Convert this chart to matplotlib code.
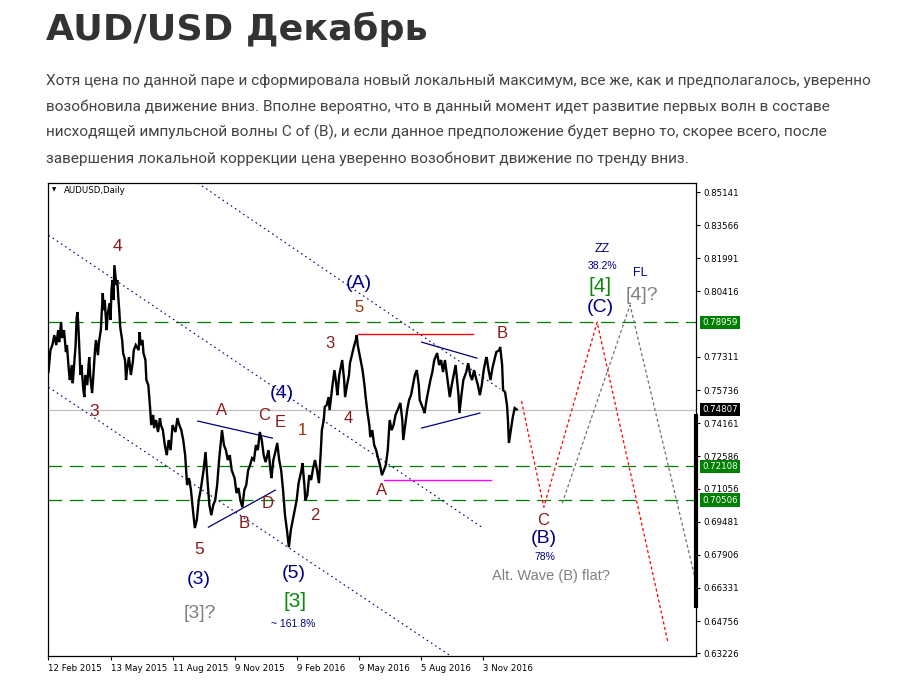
import numpy as np
import matplotlib.pyplot as plt

# AUDUSD daily, bar index counted from 12 Feb 2015, price
bars = [0, 2, 4, 6, 8, 10, 11, 13, 14, 16, 18, 19, 21, 22, 24, 25, 28, 29, 30, 31,
        33, 34, 36, 37, 38, 40, 41, 42, 43, 45, 46, 48, 49, 51, 52, 54, 56, 57, 58, 60,
        61, 63, 64, 65, 66, 67, 68, 70, 71, 72, 73, 74, 76, 77, 79, 80, 81, 83, 85, 87,
        88, 90, 93, 94, 95, 97, 98, 100, 101, 103, 105, 106, 108, 109, 111, 113, 115, 116, 118, 120,
        122, 124, 126, 128, 131, 133, 135, 137, 139, 141, 143, 145, 147, 149, 151, 153, 155, 157, 160, 162,
        164, 166, 168, 170, 172, 174, 176, 178, 179, 181, 183, 185, 187, 189, 192, 194, 196, 198, 200, 202,
        204, 206, 208, 210, 212, 214, 216, 218, 220, 222, 224, 227, 229, 230, 232, 234, 236, 238, 240, 242,
        244, 246, 248, 250, 252, 254, 256, 258, 261, 262, 264, 265, 267, 269, 271, 273, 275, 277, 279, 281,
        282, 284, 285, 287, 289, 290, 293, 295, 297, 298, 300, 303, 305, 306, 308, 310, 311, 313, 315, 317,
        318, 319, 321, 324, 326, 327, 329, 331, 332, 334, 336, 338, 340, 342, 344, 346, 348, 350, 352, 354,
        356, 358, 361, 363, 365, 366, 368, 370, 372, 374, 376, 378, 380, 382, 383, 385, 387, 388, 390, 392,
        394, 396, 398, 401, 403, 405, 407, 409, 411, 413, 414, 416, 418, 420, 421, 423, 424, 426, 428, 431,
        433, 435, 437, 439, 441, 443, 445, 447, 449, 451, 452, 454, 456, 458, 460, 462, 465, 466, 468, 469,
        471, 473, 474, 475, 477, 479, 481, 483]
close = [0.7659, 0.7763, 0.7787, 0.7834, 0.7787, 0.7858, 0.7801, 0.7896, 0.7820, 0.7858,
         0.7754, 0.7787, 0.7668, 0.7621, 0.7692, 0.7606, 0.7787, 0.7915, 0.7944, 0.7858,
         0.7645, 0.7692, 0.7573, 0.7540, 0.7645, 0.7597, 0.7668, 0.7730, 0.7645, 0.7559,
         0.7621, 0.7763, 0.7811, 0.7739, 0.7797, 0.7858, 0.8034, 0.7953, 0.8001, 0.7858,
         0.7929, 0.7986, 0.7906, 0.8048, 0.8096, 0.8001, 0.8167, 0.8072, 0.8096, 0.8015,
         0.7953, 0.7872, 0.7811, 0.7749, 0.7716, 0.7621, 0.7668, 0.7730, 0.7645, 0.7706,
         0.7763, 0.7787, 0.7763, 0.7849, 0.7787, 0.7811, 0.7749, 0.7716, 0.7621, 0.7597,
         0.7478, 0.7407, 0.7455, 0.7393, 0.7431, 0.7374, 0.7440, 0.7407, 0.7383, 0.7312,
         0.7264, 0.7336, 0.7288, 0.7407, 0.7374, 0.7440, 0.7407, 0.7383, 0.7336, 0.7264,
         0.7122, 0.7155, 0.7098, 0.7003, 0.6918, 0.6956, 0.7050, 0.7098, 0.7193, 0.7279,
         0.7146, 0.7027, 0.6979, 0.7027, 0.7050, 0.7122, 0.7241, 0.7336, 0.7383, 0.7312,
         0.7288, 0.7241, 0.7264, 0.7193, 0.7155, 0.7084, 0.7108, 0.7050, 0.7017, 0.7098,
         0.7122, 0.7193, 0.7217, 0.7250, 0.7241, 0.7312, 0.7288, 0.7374, 0.7336, 0.7264,
         0.7231, 0.7288, 0.7193, 0.7155, 0.7241, 0.7279, 0.7322, 0.7241, 0.7193, 0.7098,
         0.6979, 0.6908, 0.6827, 0.6908, 0.6956, 0.7003, 0.7050, 0.7131, 0.7193, 0.7226,
         0.7122, 0.7050, 0.7074, 0.7169, 0.7146, 0.7203, 0.7241, 0.7193, 0.7131, 0.7288,
         0.7383, 0.7431, 0.7493, 0.7502, 0.7540, 0.7478, 0.7597, 0.7668, 0.7597, 0.7549,
         0.7645, 0.7716, 0.7621, 0.7540, 0.7597, 0.7645, 0.7701, 0.7739, 0.7778, 0.7811,
         0.7834, 0.7787, 0.7739, 0.7668, 0.7597, 0.7549, 0.7469, 0.7407, 0.7350, 0.7383,
         0.7312, 0.7288, 0.7250, 0.7217, 0.7169, 0.7193, 0.7217, 0.7288, 0.7431, 0.7383,
         0.7407, 0.7455, 0.7488, 0.7512, 0.7431, 0.7336, 0.7407, 0.7478, 0.7526, 0.7549,
         0.7597, 0.7645, 0.7668, 0.7597, 0.7526, 0.7502, 0.7478, 0.7464, 0.7526, 0.7573,
         0.7621, 0.7659, 0.7716, 0.7749, 0.7692, 0.7716, 0.7659, 0.7716, 0.7645, 0.7573,
         0.7540, 0.7597, 0.7645, 0.7692, 0.7645, 0.7549, 0.7464, 0.7549, 0.7621, 0.7659,
         0.7701, 0.7645, 0.7621, 0.7668, 0.7630, 0.7597, 0.7549, 0.7597, 0.7668, 0.7716,
         0.7730, 0.7668, 0.7621, 0.7678, 0.7716, 0.7754, 0.7763, 0.7778, 0.7692, 0.7573,
         0.7564, 0.7502, 0.7431, 0.7322, 0.7383, 0.7445, 0.7488, 0.7481]

date_ticks = [0, 64, 128, 192, 256, 320, 384, 448]
date_labels = ['12 Feb 2015', '13 May 2015', '11 Aug 2015', '9 Nov 2015',
               '9 Feb 2016', '9 May 2016', '5 Aug 2016', '3 Nov 2016']
price_ticks = [0.85141, 0.83566, 0.81991, 0.80416, 0.77311, 0.75736, 0.74161,
               0.72586, 0.71056, 0.69481, 0.67906, 0.66331, 0.64756, 0.63226]
green_levels = [0.78959, 0.72108, 0.70506]
last_price = 0.74807

# channel lines (bar, price) pairs
chan_top = ([154, 466], [0.8557, 0.7578])
chan_mid = ([0, 447], [0.8309, 0.6922])
chan_low = ([0, 415], [0.7587, 0.6310])
tri1_up = ([154, 231], [0.7426, 0.7345])
tri1_dn = ([165, 234], [0.6922, 0.7098])
tri2_up = ([385, 442], [0.7801, 0.7725])
tri2_dn = ([385, 445], [0.7393, 0.7464])
red_level = ([319, 438], [0.7839, 0.7839])
pink_level = ([346, 456], [0.7146, 0.7146])
# projected paths
zz_x = [488, 511, 566, 639]
zz_y = [0.7521, 0.7017, 0.7896, 0.6376]
fl_x = [530, 600, 667]
fl_y = [0.7036, 0.7977, 0.6680]

RED = '#8b1a1a'
NAVY = '#000080'
GREEN = '#0a8a0a'
GRAY = '#808080'
wave_labels = [
    ('4', 71, 0.8257, RED, 12.5), ('3', 47, 0.7473, RED, 12.5), ('5', 155, 0.6818, RED, 12.5),
    ('(3)', 155, 0.6675, NAVY, 14), ('[3]?', 156, 0.6514, GRAY, 14),
    ('A', 179, 0.7478, RED, 12), ('C', 222, 0.7454, RED, 12), ('E', 239, 0.7417, RED, 12),
    ('B', 202, 0.6941, RED, 12), ('D', 226, 0.7036, RED, 12),
    ('1', 262, 0.7383, '#993300', 12), ('2', 275, 0.6979, RED, 12), ('3', 290, 0.7796, RED, 12),
    ('4', 309, 0.7440, RED, 12), ('5', 320, 0.7967, '#993300', 12),
    ('(A)', 320, 0.8081, NAVY, 14), ('(4)', 241, 0.7559, NAVY, 14),
    ('(5)', 253, 0.6704, NAVY, 14), ('[3]', 254, 0.6571, GREEN, 15),
    ('~ 161.8%', 252, 0.6462, NAVY, 7.5),
    ('A', 344, 0.7098, RED, 12), ('B', 468, 0.7844, RED, 12),
    ('C', 510, 0.6956, RED, 12), ('(B)', 511, 0.6870, NAVY, 14), ('78%', 512, 0.6780, NAVY, 7.5),
    ('Alt. Wave (B) flat?', 518, 0.6690, GRAY, 10.5),
    ('ZZ', 571, 0.8243, NAVY, 9), ('38.2%', 572, 0.8162, NAVY, 7.5),
    ('[4]', 569, 0.8067, GREEN, 15), ('(C)', 569, 0.7967, NAVY, 14),
    ('FL', 611, 0.8129, NAVY, 9), ('[4]?', 612, 0.8024, GRAY, 14),
]

W, H = 922, 684
fig = plt.figure(figsize=(W / 100, H / 100), dpi=100)
fig.patch.set_facecolor('white')

# header
title = fig.text(46 / W, 1 - 40 / H, 'AUD/USD Декабрь', fontsize=26, fontweight='bold',
                 color='#333333', family=['DejaVu Sans'], va='baseline')
para = ['Хотя цена по данной паре и сформировала новый локальный максимум, все же, как и предполагалось, уверенно',
        'возобновила движение вниз. Вполне вероятно, что в данный момент идет развитие первых волн в составе',
        'нисходящей импульсной волны C of (B), и если данное предположение будет верно то, скорее всего, после',
        'завершения локальной коррекции цена уверенно возобновит движение по тренду вниз.']
para_txt = []
for i, line in enumerate(para):
    para_txt.append(fig.text(46 / W, 1 - (85 + 26 * i) / H, line, fontsize=12, color='#444444',
                             family=['Roboto', 'DejaVu Sans'], va='baseline'))

fig.canvas.draw()
r = fig.canvas.get_renderer()
tw = title.get_window_extent(r).width
title.set_fontsize(title.get_fontsize() * 381 / tw)
pw = para_txt[0].get_window_extent(r).width
fs = 12 * 823 / pw
for t in para_txt:
    t.set_fontsize(fs)

# chart
ax = fig.add_axes([48 / W, 28 / H, 648 / W, 473 / H])
ax.set_xlim(-0.5, 668)
ax.set_ylim(0.6310, 0.8557)

for lv in green_levels:
    ax.axhline(lv, color='#008000', lw=0.9, dashes=(11, 6))
ax.axhline(last_price, color='#c0c0c0', lw=0.9)

dot = dict(color=NAVY, lw=0.8, linestyle=(0, (1.5, 3)))
for xs, ys in (chan_top, chan_mid, chan_low):
    ax.plot(xs, ys, **dot)
for xs, ys in (tri1_up, tri1_dn, tri2_up, tri2_dn):
    ax.plot(xs, ys, color=NAVY, lw=0.9)
ax.plot(*red_level, color='#ff0000', lw=1)
ax.plot(*pink_level, color='#ff00ff', lw=1)

ax.plot(bars, close, color='black', lw=1.7, solid_joinstyle='miter')

ax.plot(zz_x, zz_y, color='#ff0000', lw=0.9, linestyle=(0, (2.5, 2)))
ax.plot(fl_x, fl_y, color='#707070', lw=0.9, linestyle=(0, (2.5, 2)))
ax.plot([668, 668], [0.7460, 0.6540], color='black', lw=3, clip_on=False, solid_capstyle='butt')

for txt, bx, py, col, sz in wave_labels:
    ax.text(bx, py, txt, color=col, fontsize=sz, ha='center', va='center',
            family=['Liberation Sans', 'DejaVu Sans'])

ax.text(0.006, 0.985, '\u25bc', transform=ax.transAxes, fontsize=4, va='center', ha='left')
ax.text(0.025, 0.985, 'AUDUSD,Daily', transform=ax.transAxes, fontsize=6.2, va='center',
        ha='left', color='#000000')

ax.yaxis.tick_right()
ax.set_yticks(price_ticks)
ax.set_yticklabels(['%.5f' % p for p in price_ticks])
ax.set_xticks(date_ticks)
ax.set_xticklabels(date_labels)
for lab in ax.get_xticklabels():
    lab.set_ha('left')
ax.tick_params(axis='both', direction='out', length=3, width=0.8, labelsize=6.2, pad=2)
ax.tick_params(axis='x', pad=3)
for s in ax.spines.values():
    s.set_linewidth(0.9)

for lv in green_levels:
    ax.text(1.0093, lv, '%.5f' % lv, transform=ax.get_yaxis_transform(), fontsize=6.2,
            color='white', va='center', ha='left',
            bbox=dict(boxstyle='square,pad=0.25', fc='#008000', ec='none'))
ax.text(1.0093, last_price, '%.5f' % last_price, transform=ax.get_yaxis_transform(), fontsize=6.2,
        color='white', va='center', ha='left',
        bbox=dict(boxstyle='square,pad=0.25', fc='black', ec='none'))

fig.savefig('out.png', dpi=100, facecolor='white')
